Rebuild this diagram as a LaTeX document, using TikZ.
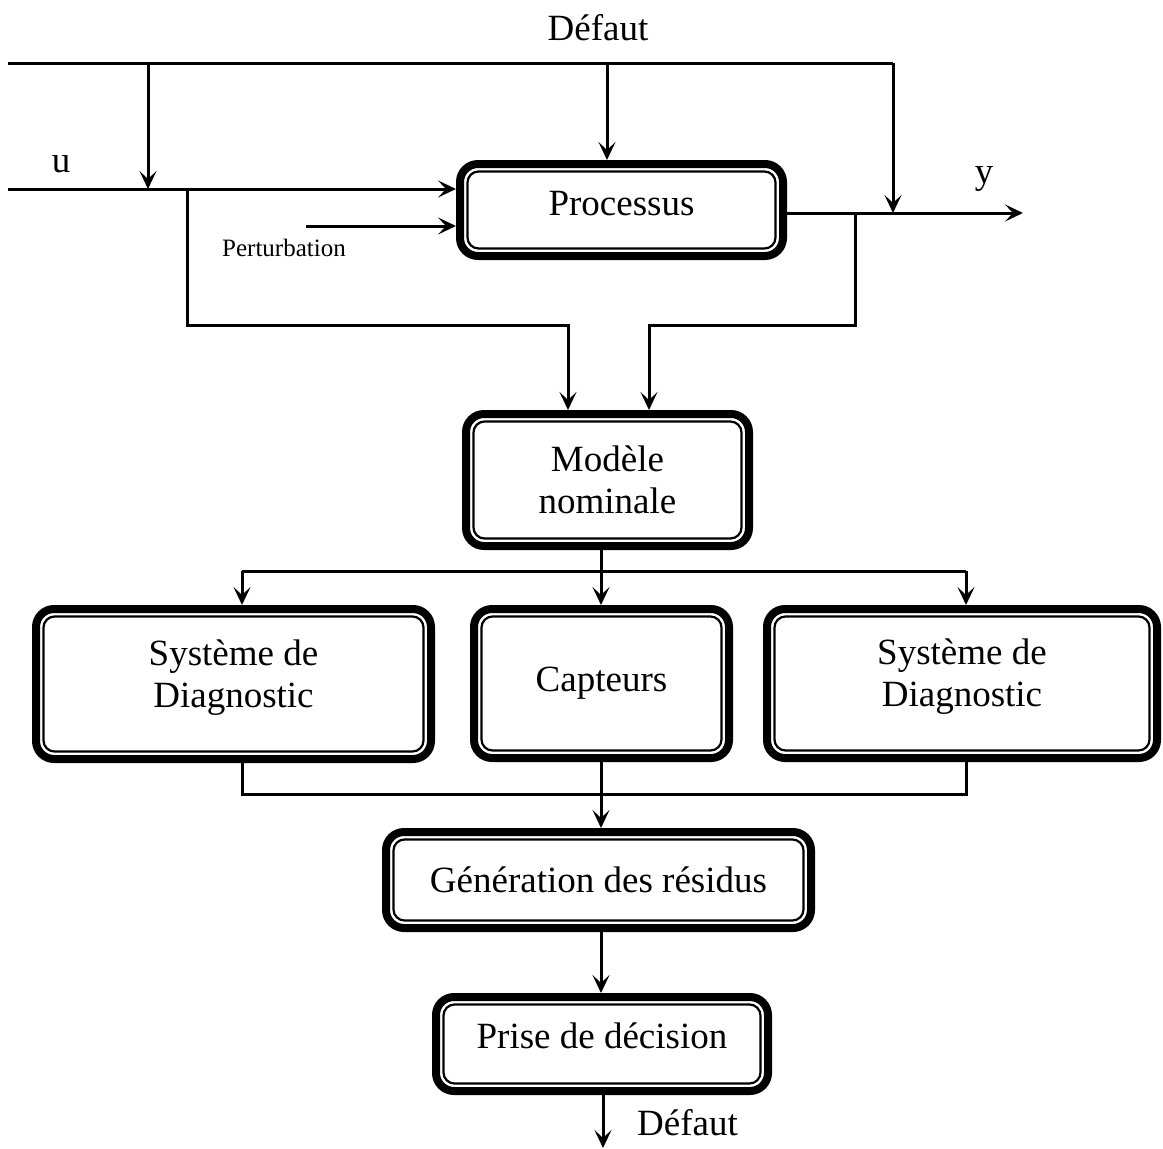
\documentclass[tikz,border=0pt]{standalone}
\usepackage{fontspec}
\setmainfont{Liberation Serif}
\usetikzlibrary{arrows.meta}
\begin{document}
\begin{tikzpicture}[x=1pt,y=-1pt,
  conn/.style={line width=3pt},
  arr/.style={conn,-{Stealth[length=18pt,width=17pt,inset=8pt]}},
  blk/.style={draw, line width=8pt, rounded corners=18pt, inner sep=0pt,
    outer sep=4pt, align=center, font=\fontsize{37}{42}\selectfont},
  inner/.style={line width=2.2pt, rounded corners=11pt},
  lbl/.style={inner sep=0pt, font=\fontsize{37}{42}\selectfont},
  small/.style={inner sep=0pt, font=\fontsize{25}{30}\selectfont},
]
\useasboundingbox (0,0) rectangle (1163,1149);

% blocks
\node[blk, minimum width=323pt, minimum height=92pt, text depth=14pt] (P) at (621.5,210) {Processus};
\node[blk, minimum width=283pt, minimum height=132pt] (M) at (607.5,480) {Modèle\\nominale};
\node[blk, minimum width=395pt, minimum height=150pt, text depth=21pt] (D1) at (233.5,684) {Système de\\Diagnostic};
\node[blk, minimum width=255pt, minimum height=149pt] (C) at (601.5,683.5) {Capteurs};
\node[blk, minimum width=390pt, minimum height=149pt, text depth=21pt] (D2) at (962,683.5) {Système de\\Diagnostic};
\node[blk, minimum width=425pt, minimum height=96pt] (G) at (598.5,880) {Génération des résidus};
\node[blk, minimum width=332pt, minimum height=94pt, text depth=17pt] (R) at (602,1044) {Prise de décision};

% inner thin border of each block
\foreach \n in {P,M,D1,C,D2,G,R}
  \draw[inner] ([shift={(11.5,11.5)}]\n.north west) rectangle ([shift={(-11.5,-11.5)}]\n.south east);

% labels
\node[lbl, anchor=base] (fault) at (598,40) {Défaut};
\node[lbl, anchor=base] (ulab) at (61,172) {u};
\node[lbl, anchor=base] (ylab) at (984,183) {y};
\node[small, anchor=base west] (plab) at (222,256) {Perturbation};
\node[lbl, anchor=base west] (fault2) at (637,1135) {Défaut};

% connector points
\coordinate (f0) at (8,63);
\coordinate (f1) at (148,63);
\coordinate (f2) at (607,63);
\coordinate (f3) at (893,63);
\coordinate (u0) at (8,189);
\coordinate (u1) at (148,189);
\coordinate (bu) at (187,189);
\coordinate (ml) at (568,325);
\coordinate (pt) at (306,226);
\coordinate (yout) at (1023,213);
\coordinate (y1) at (893,213);
\coordinate (by) at (855,213);
\coordinate (mr) at (649,325);
\coordinate (sp) at (601,571);
\coordinate (s1) at (242,571);
\coordinate (s3) at (966,571);
\coordinate (j1) at (242,794);
\coordinate (j2) at (601,794);
\coordinate (j3) at (966,794);
\coordinate (rx) at (603,1095);
\coordinate (out) at (603,1148);

% fault line and its drops
\draw[conn] (f0) -- (f3);
\draw[arr] (f1) -- (u1);
\draw[arr] (f2) -- (f2 |- P.north);
\draw[arr] (f3) -- (y1);

% input, disturbance, output
\draw[arr] (u0) -- (u0 -| P.west);
\draw[arr] (pt) -- (pt -| P.west);
\draw[arr] (yout -| P.east) -- (yout);

% feeds to the nominal model
\draw[arr] (bu) |- (ml) -- (ml |- M.north);
\draw[arr] (by) |- (mr) -- (mr |- M.north);

% distribution to the three blocks
\draw[conn] (sp |- M.south) -- (sp);
\draw[conn] (s1) -- (s3);
\draw[arr] (s1) -- (s1 |- D1.north);
\draw[arr] (sp) -- (sp |- C.north);
\draw[arr] (s3) -- (s3 |- D2.north);

% merge into residual generation
\draw[conn] (j1 |- D1.south) -- (j1) -- (j3) -- (j3 |- D2.south);
\draw[arr] (j2 |- C.south) -- (j2 |- G.north);

% decision chain
\draw[arr] (j2 |- G.south) -- (j2 |- R.north);
\draw[arr] (rx) -- (out);
\end{tikzpicture}
\end{document}
